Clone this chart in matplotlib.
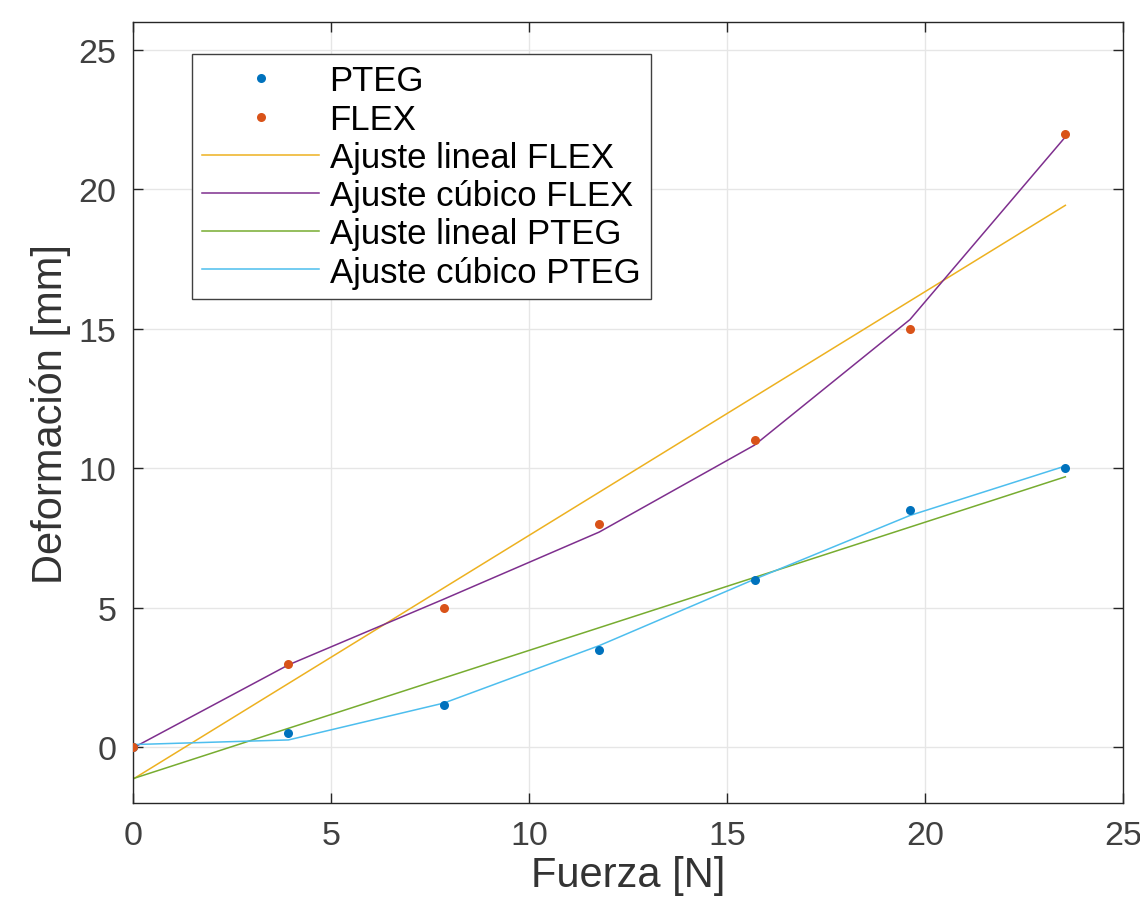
import numpy as np
import matplotlib
matplotlib.use("Agg")
import matplotlib.pyplot as plt

plt.rcParams['font.family'] = ['Liberation Sans', 'DejaVu Sans']

# datos medidos
fuerza = [0, 3.924, 7.848, 11.772, 15.696, 19.62, 23.544]
def_pteg = [0, 0.5, 1.5, 3.5, 6, 8.5, 10]
def_flex = [0, 3, 5, 8, 11, 15, 22]

x = np.array(fuerza)

# ajustes
p_lin_flex = np.polyfit(x, def_flex, 1)
p_cub_flex = np.polyfit(x, def_flex, 3)
p_lin_pteg = np.polyfit(x, def_pteg, 1)
p_cub_pteg = np.polyfit(x, def_pteg, 3)

fig = plt.figure(figsize=(11.4, 9.03), dpi=100)
ax = fig.add_axes([0.1167, 0.1096, 0.8684, 0.8649])

ax.plot(x, def_pteg, 'o', color='#0072BD', markersize=6.5, markeredgewidth=0, label='PTEG', zorder=3)
ax.plot(x, def_flex, 'o', color='#D95319', markersize=6.5, markeredgewidth=0, label='FLEX', zorder=3)
ax.plot(x, np.polyval(p_lin_flex, x), color='#EDB120', lw=1.1, label='Ajuste lineal FLEX')
ax.plot(x, np.polyval(p_cub_flex, x), color='#7E2F8E', lw=1.1, label='Ajuste cúbico FLEX')
ax.plot(x, np.polyval(p_lin_pteg, x), color='#77AC30', lw=1.1, label='Ajuste lineal PTEG')
ax.plot(x, np.polyval(p_cub_pteg, x), color='#4DBEEE', lw=1.1, label='Ajuste cúbico PTEG')

ax.set_xlim(0, 25)
ax.set_ylim(-2, 26)
ax.set_xticks([0, 5, 10, 15, 20, 25])
ax.set_yticks([0, 5, 10, 15, 20, 25])
ax.grid(True, color='#e6e6e6', lw=1.0)
ax.set_axisbelow(True)
for s in ax.spines.values():
    s.set_color('#262626')
    s.set_linewidth(1.0)
ax.tick_params(direction='in', length=7, width=1.0, color='#262626',
               labelsize=24.5, labelcolor='#404040', pad=12,
               top=True, right=True)

ax.set_xlabel('Fuerza [N]', fontsize=30, color='#333333', labelpad=3)
ax.set_ylabel('Deformación [mm]', fontsize=30, color='#333333', labelpad=5)

leg = ax.legend(loc='upper left', bbox_to_anchor=(0.0596, 0.959), borderaxespad=0,
                fontsize=25, fancybox=False, framealpha=1, edgecolor='#404040',
                handlelength=3.37, handletextpad=0.29, labelspacing=0.15,
                borderpad=0.3, markerscale=1.0)
leg.get_frame().set_linewidth(1.0)

fig.savefig('out.png', dpi=100)
